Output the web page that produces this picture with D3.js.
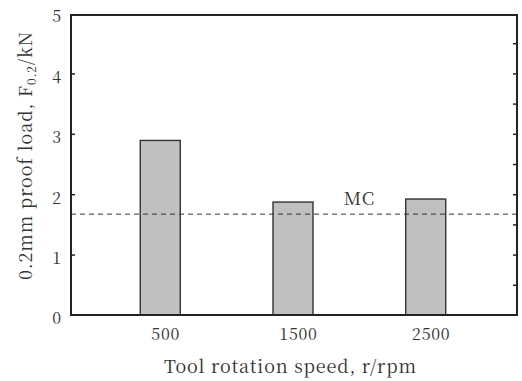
<!DOCTYPE html>
<html>
<head>
<meta charset="utf-8">
<script src="https://cdn.jsdelivr.net/npm/d3@7"></script>
<style>
  html, body { margin: 0; padding: 0; background: #fff; }
  svg { display: block; }
</style>
</head>
<body>
<svg id="chart" width="522" height="381"></svg>
<script>
// Proof load at each tool rotation speed
const speeds = ["500", "1500", "2500"];
const proofLoad = [2.89, 1.87, 1.92];
// Base metal (MC) reference level
const mcLevel = 1.67;
const mcLabel = "MC";
const yTicks = [0, 1, 2, 3, 4, 5];
const yMinorTicks = [0.5, 1, 1.5, 2, 2.5, 3, 3.5, 4, 4.5];

const FONT = "'Noto Serif CJK KR', 'Liberation Serif', serif";
const INK = "#333";

const svg = d3.select("#chart").attr("font-family", FONT);
const plotLeft = 71, plotRight = 517, plotTop = 15, plotBottom = 315;

const x = d3.scalePoint().domain(speeds).range([70, 516]).padding(0.68);
const y = d3.scaleLinear().domain([0, 5]).range([plotBottom, 13]);

const barW = 40;

// bars
svg.append("g").selectAll("rect")
  .data(speeds)
  .join("rect")
  .attr("x", d => x(d) - barW / 2)
  .attr("y", (d, i) => y(proofLoad[i]))
  .attr("width", barW)
  .attr("height", (d, i) => y(0) - y(proofLoad[i]))
  .attr("fill", "#c0c0c0")
  .attr("stroke", "#333")
  .attr("stroke-width", 1.4);

// MC reference line
svg.append("line")
  .attr("x1", plotLeft).attr("x2", plotRight)
  .attr("y1", y(mcLevel)).attr("y2", y(mcLevel))
  .attr("stroke", "#333")
  .attr("stroke-width", 1)
  .attr("stroke-dasharray", "5,4");

svg.append("text")
  .attr("x", (x(speeds[1]) + x(speeds[2])) / 2)
  .attr("y", y(mcLevel) - 9)
  .attr("text-anchor", "middle")
  .attr("font-family", FONT)
  .attr("font-size", 18)
  .attr("letter-spacing", 0.8)
  .attr("fill", INK)
  .text(mcLabel);

// left axis: integer ticks pointing inward
const yAxisL = d3.axisLeft(y).tickValues(yTicks).tickFormat(d3.format("d"))
  .tickSizeInner(-4).tickSizeOuter(0).tickPadding(10);
const gL = svg.append("g").attr("transform", `translate(${plotLeft},0)`).call(yAxisL)
  .attr("font-family", FONT);
gL.select(".domain").remove();
gL.selectAll(".tick line").attr("stroke", "#222").attr("stroke-width", 1.5)
  .filter(d => d === 0 || d === 5).remove();
gL.selectAll(".tick text")
  .attr("font-size", 16)
  .attr("fill", INK)
  .attr("x", -10)
  .attr("dy", "0.55em");

// right axis: half-unit ticks pointing inward
const yAxisR = d3.axisRight(y).tickValues(yMinorTicks).tickSizeInner(-4).tickSizeOuter(0).tickFormat("");
const gR = svg.append("g").attr("transform", `translate(${plotRight},0)`).call(yAxisR);
gR.select(".domain").remove();
gR.selectAll(".tick line").attr("stroke", "#222").attr("stroke-width", 1.5);

// bottom axis labels
const xAxis = d3.axisBottom(x).tickSize(0).tickPadding(0);
const gB = svg.append("g").attr("transform", `translate(0,${plotBottom})`).call(xAxis)
  .attr("font-family", FONT);
gB.select(".domain").remove();
gB.selectAll(".tick text")
  .attr("font-size", 16)
  .attr("letter-spacing", 0.8)
  .attr("fill", INK)
  .attr("dx", 5)
  .attr("y", 25)
  .attr("dy", 0);

// plot frame
svg.append("rect")
  .attr("x", plotLeft).attr("y", plotTop)
  .attr("width", plotRight - plotLeft).attr("height", plotBottom - plotTop)
  .attr("fill", "none")
  .attr("stroke", "#222")
  .attr("stroke-width", 2);

// axis titles
svg.append("text")
  .attr("x", 290.5)
  .attr("y", 373)
  .attr("text-anchor", "middle")
  .attr("font-family", FONT)
  .attr("font-size", 18)
  .attr("letter-spacing", 0.9)
  .attr("fill", INK)
  .text("Tool rotation speed, r/rpm");

const yTitle = svg.append("text")
  .attr("transform", "translate(32,155.5) rotate(-90)")
  .attr("text-anchor", "middle")
  .attr("font-family", FONT)
  .attr("font-size", 18)
  .attr("letter-spacing", 0.9)
  .attr("fill", INK);
yTitle.append("tspan").text("0.2mm proof load, F");
yTitle.append("tspan").attr("font-size", 12).attr("dy", 4).text("0.2");
yTitle.append("tspan").attr("dy", -4).text("/kN");
</script>
</body>
</html>
